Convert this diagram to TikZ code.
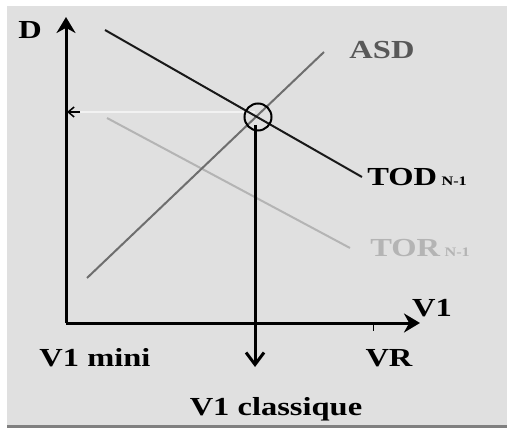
\documentclass[tikz,border=0pt]{standalone}
\usepackage{fontspec}
\setmainfont{Liberation Serif}
\usetikzlibrary{arrows.meta}
\definecolor{bg}{HTML}{E0E0E0}
\definecolor{asdc}{HTML}{6E6E6E}
\definecolor{torc}{HTML}{B4B4B4}
\definecolor{faint}{HTML}{F2F2F2}
\begin{document}
\begin{tikzpicture}[x=1pt,y=-1pt,
  lbl/.style={font=\fontsize{26}{26}\selectfont\bfseries, xscale=1.25, transform shape, inner sep=0pt},
  sub/.style={font=\fontsize{13}{13}\selectfont\bfseries, xscale=1.25, transform shape, inner sep=0pt},
  axis/.style={line width=3pt, -{Stealth[length=16pt,width=19pt]}},
  curve/.style={line width=2pt}]
\useasboundingbox (0,0) rectangle (507,428);
\fill[white] (0,0) rectangle (507,428);
\fill[bg] (7,6) rectangle (507,425);
\fill[gray] (7,425) rectangle (507,428);
% faint horizontal
\draw[faint, line width=2pt] (255,112) -- (75,112);
\coordinate (hl) at (80,112);
\coordinate (hr) at (67,112);
\draw[line width=1.5pt, -{Straight Barb[length=6pt,width=10pt]}] (hl) -- (hr);
% TOR
\coordinate (tor1) at (107,118);
\coordinate (tor2) at (350,248);
\draw[torc, curve] (tor1) -- (tor2);
% ASD
\coordinate (asd1) at (87,278);
\coordinate (asd2) at (324,52);
\draw[asdc, curve] (asd1) -- (asd2);
% TOD
\coordinate (tod1) at (105,30);
\coordinate (tod2) at (362,177);
\draw[black!90, curve] (tod1) -- (tod2);
% axes
\coordinate (o) at (66,323);
\coordinate (ytop) at (66,17);
\coordinate (xend) at (420,323);
\draw[axis] (o) -- (ytop);
\draw[axis] (o) -- (xend);
\coordinate (tk1) at (373,322);
\coordinate (tk2) at (373,331);
\draw[line width=0.6pt] (tk1) -- (tk2);
% intersection circle and down arrow
\node[draw, circle, line width=2pt, minimum size=27pt, inner sep=0pt] (c) at (258,117) {};
\coordinate (dtop) at (255,125);
\coordinate (dbot) at (255,367);
\draw[line width=3pt, -{Straight Barb[length=12pt,width=18pt]}] (dtop) -- (dbot);
% labels
\node[lbl] (D) at (30,30) {D};
\node[lbl, text=asdc!80!black] (ASD) at (382,50) {ASD};
\node[lbl, anchor=west] (TOD) at (367,177) {TOD};
\node[sub, anchor=base west] (TODs) at ([xshift=4pt]TOD.base east) {N-1};
\node[lbl, anchor=west, text=torc] (TOR) at (370,248) {TOR};
\node[sub, anchor=base west, text=torc] (TORs) at ([xshift=4pt]TOR.base east) {N-1};
\node[lbl] (V1) at (432,308) {V1};
\node[lbl] (V1m) at (95,358) {V1 mini};
\node[lbl] (VR) at (389,358) {VR};
\node[lbl] (V1c) at (276,409) {V1 classique};
\end{tikzpicture}
\end{document}
